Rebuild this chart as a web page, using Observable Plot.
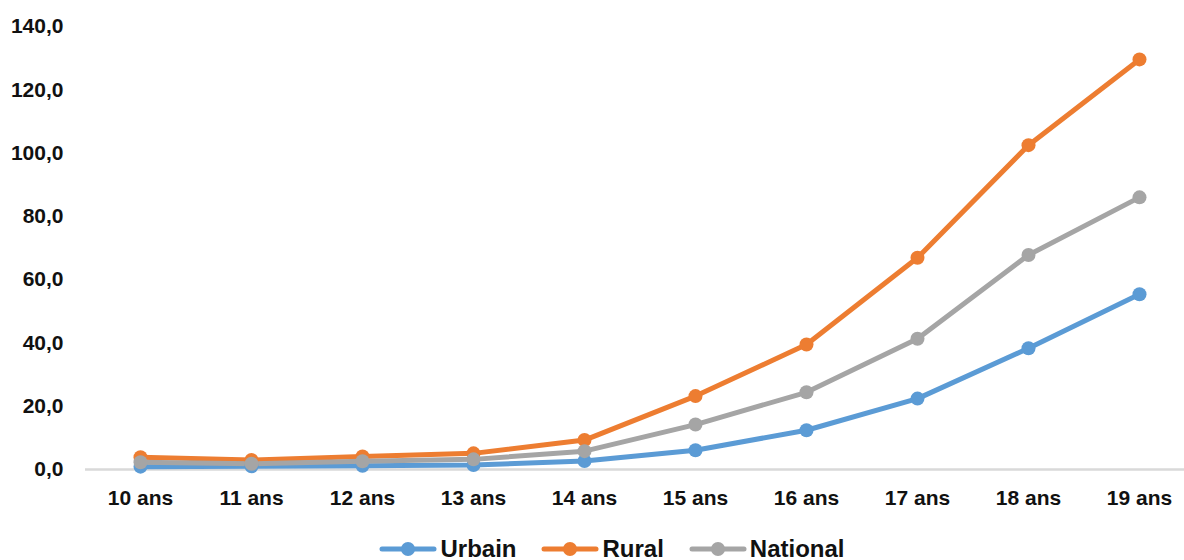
<!DOCTYPE html>
<html>
<head>
<meta charset="utf-8">
<script src="https://cdn.jsdelivr.net/npm/d3@7"></script>
<script src="https://cdn.jsdelivr.net/npm/@observablehq/plot@0.6"></script>
<style>
  body { margin: 0; background: #fff; font-family: "Liberation Sans", Arial, sans-serif; }
  #chart svg { display: block; }
  #legend { display: flex; justify-content: center; align-items: center; gap: 25px; height: 30px; margin-top: 4px; margin-left: 40px; font-weight: bold; font-size: 24px; color: #111; }
  #legend .item { display: flex; align-items: center; gap: 3px; }
</style>
</head>
<body>
<div id="chart"></div>
<div id="legend"></div>
<script>
const categories = ["10 ans", "11 ans", "12 ans", "13 ans", "14 ans", "15 ans", "16 ans", "17 ans", "18 ans", "19 ans"];
const urbain   = [0.9, 1.0, 1.2, 1.4, 2.7, 6.1, 12.4, 22.4, 38.3, 55.4];
const rural    = [3.9, 3.0, 4.1, 5.1, 9.3, 23.2, 39.5, 66.9, 102.5, 129.6];
const national = [2.3, 1.8, 2.6, 3.2, 5.8, 14.2, 24.4, 41.3, 67.8, 86.0];
const seriesNames = ["Urbain", "Rural", "National"];
const seriesColors = ["#5B9BD5", "#ED7D31", "#A5A5A5"];
const yTicks = [0, 20, 40, 60, 80, 100, 120, 140];

const seriesValues = [urbain, rural, national];
const data = seriesNames.flatMap((s, i) => categories.map((c, j) => ({serie: s, age: c, value: seriesValues[i][j]})));

const fmt = d => d.toFixed(1).replace(".", ",");

const chart = Plot.plot({
  width: 1184,
  height: 530,
  marginLeft: 85,
  marginRight: 0,
  marginTop: 26,
  marginBottom: 61,
  style: { fontFamily: "'Liberation Sans', Arial, sans-serif", fontSize: "21px", fontWeight: "bold", color: "#111" },
  x: { type: "point", domain: categories, range: [138, 1141], padding: 0, label: null },
  y: { domain: [0, 140], label: null },
  color: { domain: seriesNames, range: seriesColors },
  marks: [
    Plot.ruleY([0], { stroke: "#d9d9d9", strokeWidth: 2.5 }),
    Plot.axisX({ tickSize: 0, tickPadding: 21, label: null, fontSize: 21, fontWeight: "bold" }),
    Plot.axisY({ ticks: yTicks, tickFormat: fmt, tickSize: 0, tickPadding: 22, label: null, fontSize: 21, fontWeight: "bold" }),
    Plot.line(data, { x: "age", y: "value", z: "serie", stroke: "serie", strokeWidth: 5, curve: "linear" }),
    Plot.dot(data, { x: "age", y: "value", fill: "serie", r: 7 })
  ]
});
document.getElementById("chart").append(chart);

const legend = document.getElementById("legend");
seriesNames.forEach((name, i) => {
  const item = document.createElement("div");
  item.className = "item";
  item.innerHTML = `<svg width="58" height="20"><line x1="3" y1="10" x2="55" y2="10" stroke="${seriesColors[i]}" stroke-width="5" stroke-linecap="round"/><circle cx="29" cy="10" r="7" fill="${seriesColors[i]}"/></svg><span>${name}</span>`;
  legend.append(item);
});
</script>
</body>
</html>
